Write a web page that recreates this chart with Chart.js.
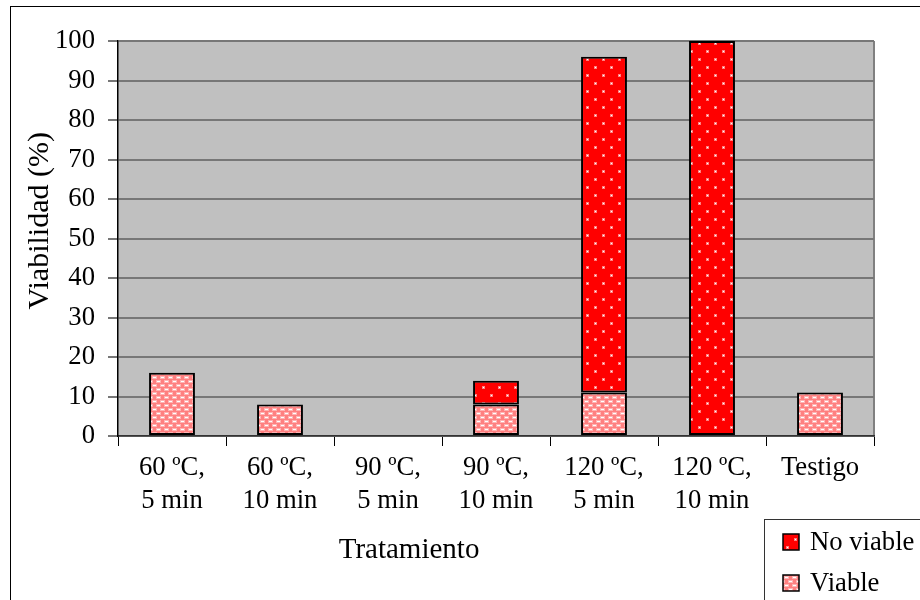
<!DOCTYPE html>
<html>
<head>
<meta charset="utf-8">
<script src="https://cdn.jsdelivr.net/npm/chart.js@4.4.0/dist/chart.umd.min.js"></script>
<style>
  html, body { margin: 0; background: #fff; }
  #wrap { width: 920px; height: 600px; }
</style>
</head>
<body>
<div id="wrap"><canvas id="chart" width="920" height="600"></canvas></div>
<script>
// treatments on the x axis (two-line labels)
const tratamientos = [
  ['60 ºC,', '5 min'], ['60 ºC,', '10 min'], ['90 ºC,', '5 min'], ['90 ºC,', '10 min'],
  ['120 ºC,', '5 min'], ['120 ºC,', '10 min'], 'Testigo'
];
// viability, %
const viable   = [16, 8, 0, 8, 11, 0, 11];
const noViable = [0, 0, 0, 6, 85, 100, 0];
const yMax = 100, yStep = 10;
const xTitle = 'Tratamiento', yTitle = 'Viabilidad (%)';

const SERIF = '"Liberation Serif", "Times New Roman", serif';
const canvas = document.getElementById('chart');
const ctx = canvas.getContext('2d');

/* ---- fill patterns ---- */
function tile(w, h, base, paint) {
  const c = document.createElement('canvas');
  c.width = w; c.height = h;
  const g = c.getContext('2d');
  g.fillStyle = base; g.fillRect(0, 0, w, h);
  paint(g);
  return ctx.createPattern(c, 'repeat');
}
// pink with small white dashes (brick layout)
const pinkDash = tile(8, 8, '#ff8080', g => {
  g.fillStyle = '#ffb3b3';
  g.fillRect(0, 0, 5, 3); g.fillRect(4, 4, 5, 3); g.fillRect(-4, 4, 5, 3);
  g.fillStyle = '#ffffff';
  g.fillRect(1, 1, 3, 1); g.fillRect(5, 5, 3, 1);
});
// red with sparse white dots
const redDots = tile(16, 16, '#ff0000', g => {
  g.fillStyle = '#ff8080';
  g.fillRect(2, 2, 3, 3); g.fillRect(10, 10, 3, 3);
  g.fillStyle = '#ffffff';
  g.fillRect(3, 3, 1, 1); g.fillRect(11, 11, 1, 1);
});

/* ---- frame, plot background, axis titles and legend ---- */
const frame = {
  id: 'frame',
  beforeDraw(chart) {
    const { ctx: c, chartArea: a } = chart;
    c.save();
    c.fillStyle = '#fff';
    c.fillRect(0, 0, chart.width, chart.height);
    c.strokeStyle = '#000'; c.lineWidth = 1;
    c.strokeRect(10.5, 6.5, chart.width, chart.height);
    c.fillStyle = '#c0c0c0';
    c.fillRect(a.left, a.top, a.right - a.left, a.bottom - a.top);
    c.strokeStyle = '#808080'; c.lineWidth = 2;
    c.beginPath(); c.moveTo(a.right, a.top); c.lineTo(a.right, a.bottom); c.stroke();
    c.restore();
  },
  afterDraw(chart) {
    const { ctx: c, chartArea: a } = chart;
    c.save();
    c.fillStyle = '#000';
    c.textAlign = 'center'; c.textBaseline = 'middle';
    // x axis title
    c.font = '29px ' + SERIF;
    c.fillText(xTitle, a.left + (a.right - a.left) * 0.385, 550);
    // y axis title, rotated
    c.save();
    c.translate(40, a.top + (a.bottom - a.top) * 0.455);
    c.rotate(-Math.PI / 2);
    c.font = '30px ' + SERIF;
    c.fillText(yTitle, 0, 0);
    c.restore();
    // legend box
    const lx = 764, ly = 519;
    c.strokeStyle = '#333'; c.lineWidth = 1;
    c.strokeRect(lx + 0.5, ly + 0.5, 300, 200);
    c.font = '26.67px ' + SERIF;
    c.textAlign = 'left';
    const items = chart.data.datasets.slice().reverse();
    items.forEach((ds, i) => {
      const cy = ly + 23 + i * 41;
      c.fillStyle = ds.backgroundColor;
      c.fillRect(lx + 19, cy - 8, 16, 16);
      c.strokeStyle = '#000'; c.lineWidth = 1.5;
      c.strokeRect(lx + 19, cy - 8, 16, 16);
      c.fillStyle = '#000';
      c.fillText(ds.label, lx + 46, cy + 1);
    });
    c.restore();
  }
};

new Chart(canvas, {
  type: 'bar',
  data: {
    labels: tratamientos,
    datasets: [
      { label: 'Viable', data: viable, backgroundColor: pinkDash },
      { label: 'No viable', data: noViable, backgroundColor: redDots }
    ].map(d => ({
      ...d,
      borderColor: '#000',
      borderWidth: 2,
      borderSkipped: false,
      barPercentage: 0.425,
      categoryPercentage: 1,
      clip: false
    }))
  },
  options: {
    responsive: false,
    animation: false,
    devicePixelRatio: 1,
    layout: { padding: { top: 41, right: 46, left: 0, bottom: 0 } },
    plugins: { legend: { display: false }, tooltip: { enabled: false } },
    scales: {
      x: {
        stacked: true,
        afterFit: s => { s.height = 164; },
        grid: { drawOnChartArea: false, drawTicks: true, tickLength: 10, tickColor: '#000', lineWidth: 1 },
        border: { color: '#333', width: 1.5 },
        ticks: {
          color: '#000', padding: 5.5, maxRotation: 0, autoSkip: false,
          font: { family: SERIF, size: 26.67, lineHeight: 1.2375 }
        }
      },
      y: {
        stacked: true,
        min: 0, max: yMax,
        afterFit: s => { s.width = 118; },
        grid: { color: '#777', lineWidth: 2, tickLength: 10, tickColor: '#777' },
        border: { color: '#000', width: 1.5 },
        ticks: {
          stepSize: yStep, color: '#000', padding: 13,
          font: { family: SERIF, size: 26.67 }
        }
      }
    }
  },
  plugins: [frame]
});
</script>
</body>
</html>
